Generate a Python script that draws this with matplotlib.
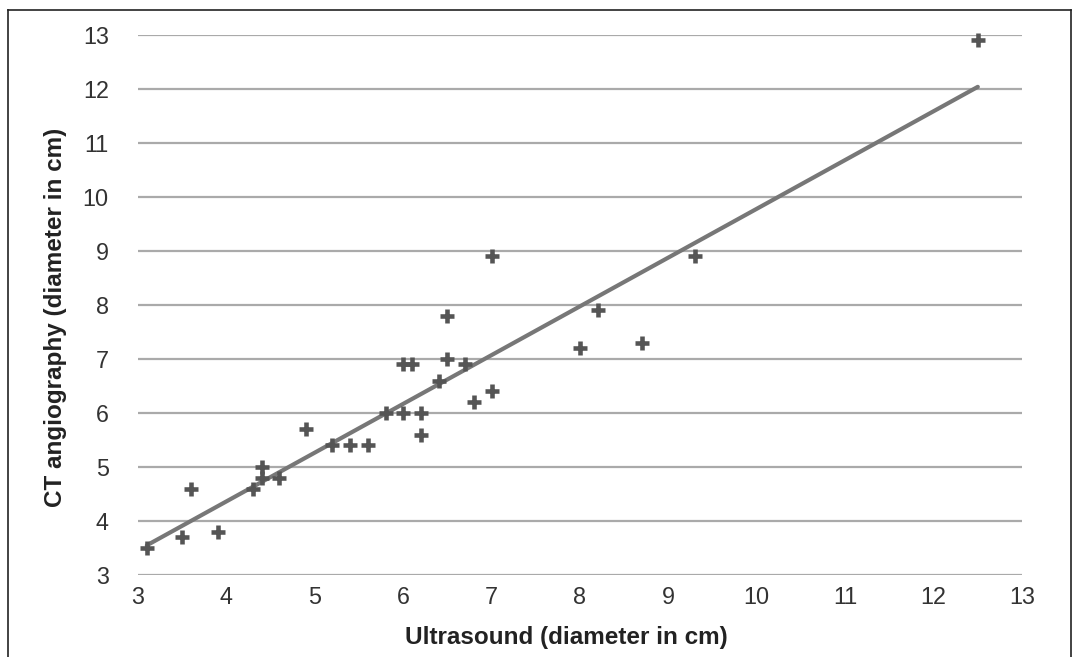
import numpy as np
import matplotlib
matplotlib.use("Agg")
import matplotlib.pyplot as plt
from matplotlib.lines import Line2D

plt.rcParams['font.family'] = ['Liberation Sans', 'DejaVu Sans']

# Data
ultrasound = [3.1, 3.5, 3.6, 3.9, 4.3, 4.4, 4.4, 4.6, 4.9, 5.2, 5.4, 5.6,
              5.8, 6.0, 6.0, 6.1, 6.2, 6.2, 6.4, 6.5, 6.5, 6.7, 6.8, 7.0,
              7.0, 8.0, 8.2, 8.7, 9.3, 12.5]
ct_angio = [3.5, 3.7, 4.6, 3.8, 4.6, 5.0, 4.8, 4.8, 5.7, 5.4, 5.4, 5.4,
            6.0, 6.0, 6.9, 6.9, 6.0, 5.6, 6.6, 7.0, 7.8, 6.9, 6.2, 6.4,
            8.9, 7.2, 7.9, 7.3, 8.9, 12.9]
trend_x = [3.1, 12.5]
trend_y = [3.55, 12.04]
ticks = list(range(3, 14))

W, H = 1077, 657
fig = plt.figure(figsize=(W / 100, H / 100), dpi=100)
ax = fig.add_axes([138 / W, 1 - 575 / H, (1022 - 138) / W, (575 - 35) / H])

ax.set_xlim(3, 13)
ax.set_ylim(3, 13)
ax.set_xticks(ticks)
ax.set_yticks(ticks)
ax.grid(axis='y', color='#aaaaaa', linewidth=1.6)
ax.set_axisbelow(True)
for s in ax.spines.values():
    s.set_visible(False)
ax.tick_params(length=0, labelsize=16.8, labelcolor='#333333')
ax.tick_params(axis='y', pad=21)
ax.tick_params(axis='x', pad=8)

ax.plot(trend_x, trend_y, color='#777777', linewidth=3, solid_capstyle='round', zorder=2)
ax.scatter(ultrasound, ct_angio, marker='+', s=110, linewidths=3.3, color='#555555',
           zorder=3, clip_on=False)

ax.set_xlabel('Ultrasound (diameter in cm)', fontsize=17.5, fontweight='bold',
              color='#222222', va='baseline')
ax.xaxis.set_label_coords((566 - 138) / 884, -(644 - 575) / 540)
ax.set_ylabel('CT angiography (diameter in cm)', fontsize=17.5, fontweight='bold',
              color='#222222', va='center')
ax.yaxis.set_label_coords((56 - 138) / 884, 1 - (317 - 35) / 540)

# Outer frame
kw = dict(color='#222222', linewidth=1.2, transform=fig.transFigure)
x0, x1, y0 = 8 / W, 1071 / W, 1 - 10 / H
fig.add_artist(Line2D([x0, x0], [0, y0], **kw))
fig.add_artist(Line2D([x0, x1], [y0, y0], **kw))
fig.add_artist(Line2D([x1, x1], [0, y0], **kw))

fig.savefig('out.png', dpi=100)
